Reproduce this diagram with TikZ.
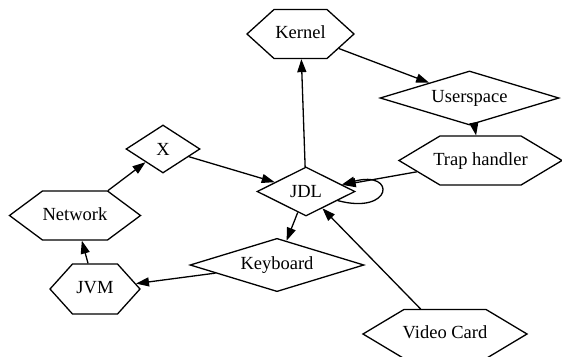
\documentclass[tikz,border=0pt]{standalone}
\usepackage{fontspec}
\setmainfont{Liberation Serif}
\usetikzlibrary{shapes.geometric,shapes.symbols,arrows.meta}
\begin{document}
\begin{tikzpicture}[x=1pt,y=1pt,
  every node/.style={font=\fontsize{18.5}{22}\selectfont, inner sep=0pt, draw, line width=1.3pt},
  % hexagon: total width, vertical padding, tip angle; the label may overhang the flat sides
  hexbox/.style n args={3}{signal, signal to=east and west, minimum width=#1,
    text height=13pt, text depth=4pt, inner ysep=#2, signal pointer angle=#3,
    execute at begin node={\hbox to 0pt\bgroup\hss},
    execute at end node={\hss\egroup}},
  diabox/.style 2 args={diamond, minimum width=#1, minimum height=#2, aspect=2},
  link/.style={line width=1.3pt, -{Triangle[length=13pt,width=9pt]}}]
\clip (0,0) rectangle (562,-356);
% nodes
\node[hexbox={107}{16pt}{84.4}]   (kernel) at (300.5,-34)   {Kernel};
\node[diabox={179}{48}]           (user)   at (469.5,-98)   {Userspace};
\node[hexbox={163}{16pt}{61.8}]   (trap)   at (480.5,-160.5){Trap handler};
\node[diabox={98}{49}]            (jdl)    at (306,-191.5)  {JDL};
\node[diabox={74}{48}]            (x)      at (163,-149)    {X};
\node[hexbox={131}{16pt}{73.2}]   (net)    at (75,-215.5)   {Network};
\node[diabox={174}{48}]           (kbd)    at (277,-265)    {Keyboard};
\node[hexbox={90}{16.5pt}{96}]    (jvm)    at (95,-289)     {JVM};
\node[hexbox={164}{16pt}{61.8}]   (video)  at (445,-334)    {Video Card};
% connectors
\draw[link] (kernel) -- (user);
\draw[link] (jdl) -- (kernel);
\draw[link] (user) -- (trap);
\draw[link] (trap) -- (jdl);
\draw[link] (jdl.-16) .. controls +(-15:57) and +(15:57) .. (jdl.11);
\draw[link] (x) -- (jdl);
\draw[link] (net) -- (x);
\draw[link] (jvm) -- (net);
\draw[link] (jdl) -- (kbd);
\draw[link] (kbd) -- (jvm);
\draw[link] (video) -- (jdl);
\end{tikzpicture}
\end{document}
